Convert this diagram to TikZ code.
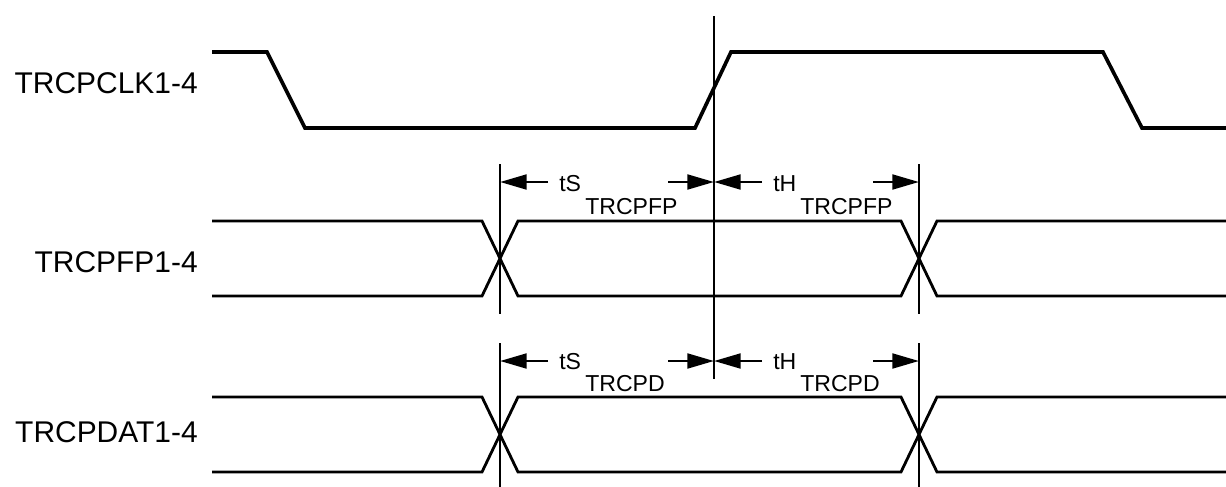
\documentclass[tikz,border=0pt]{standalone}
\usepackage{fontspec}
\setmainfont{Liberation Sans}
\usetikzlibrary{arrows.meta,positioning,calc}

\begin{document}
\begin{tikzpicture}[
    x=0.025cm, y=-0.025cm,
    clkwave/.style={line width=2.6pt, line join=miter},
    datawave/.style={line width=2pt},
    marker/.style={line width=2pt},
    dimarrow/.style={-{Triangle[length=19pt, width=10.5pt]}, line width=2pt},
    siglabel/.style={anchor=east, inner sep=0pt, font=\fontsize{21.3}{25}\selectfont},
    timelabel/.style={anchor=base west, inner sep=0pt, font=\fontsize{16.4}{19}\selectfont}
]
\useasboundingbox (0,0) rectangle (1226,487);

% signal names
\node[siglabel] (clk) at (198,83) {TRCPCLK1-4};
\node[siglabel] (fp) at (198,262) {TRCPFP1-4};
\node[siglabel] (dat) at (198,432) {TRCPDAT1-4};

% clock
\draw[clkwave] (212,52) -- (267,52) -- (305,128) -- (695,128) -- (731,52)
    -- (1103,52) -- (1142,128) -- (1226,128);

% frame pulse and data buses
\draw[datawave] (212,221) -- (482,221) -- (518,296) -- (901,296) -- (937,221) -- (1226,221);
\draw[datawave] (212,296) -- (482,296) -- (518,221) -- (901,221) -- (937,296) -- (1226,296);
\draw[datawave] (212,397) -- (482,397) -- (518,472) -- (901,472) -- (937,397) -- (1226,397);
\draw[datawave] (212,472) -- (482,472) -- (518,397) -- (901,397) -- (937,472) -- (1226,472);

% reference edges
\coordinate (clk top) at (714,16);
\coordinate (clk bot) at (714,379);
\coordinate (fpS top) at (500,164);
\coordinate (fpS bot) at (500,314);
\coordinate (fpH top) at (919,164);
\coordinate (fpH bot) at (919,314);
\coordinate (datS top) at (500,343);
\coordinate (datS bot) at (500,487);
\coordinate (datH top) at (919,343);
\coordinate (datH bot) at (919,487);
\draw[marker] (clk top) -- (clk bot);
\draw[marker] (fpS top) -- (fpS bot);
\draw[marker] (fpH top) -- (fpH bot);
\draw[marker] (datS top) -- (datS bot);
\draw[marker] (datH top) -- (datH bot);

% setup / hold arrows, TRCPFP
\coordinate (fpS) at (500,182);
\coordinate (fpC) at (714,182);
\coordinate (fpH) at (919,182);
\draw[dimarrow] ($(fpS)+(48,0)$) -- (fpS);
\draw[dimarrow] ($(fpC)+(-46,0)$) -- (fpC);
\draw[dimarrow] ($(fpC)+(48,0)$) -- (fpC);
\draw[dimarrow] ($(fpH)+(-46,0)$) -- (fpH);
\node[timelabel] (fpS lbl) at (559,191) {tS};
\node[timelabel] (fpS sub) at (585,214) {TRCPFP};
\node[timelabel] (fpH lbl) at (773,191) {tH};
\node[timelabel] (fpH sub) at (800,214) {TRCPFP};

% setup / hold arrows, TRCPD
\coordinate (datS) at (500,361);
\coordinate (datC) at (714,361);
\coordinate (datH) at (919,361);
\draw[dimarrow] ($(datS)+(48,0)$) -- (datS);
\draw[dimarrow] ($(datC)+(-46,0)$) -- (datC);
\draw[dimarrow] ($(datC)+(48,0)$) -- (datC);
\draw[dimarrow] ($(datH)+(-46,0)$) -- (datH);
\node[timelabel] (datS lbl) at (559,369) {tS};
\node[timelabel] (datS sub) at (585,391) {TRCPD};
\node[timelabel] (datH lbl) at (773,369) {tH};
\node[timelabel] (datH sub) at (800,391) {TRCPD};
\end{tikzpicture}
\end{document}
